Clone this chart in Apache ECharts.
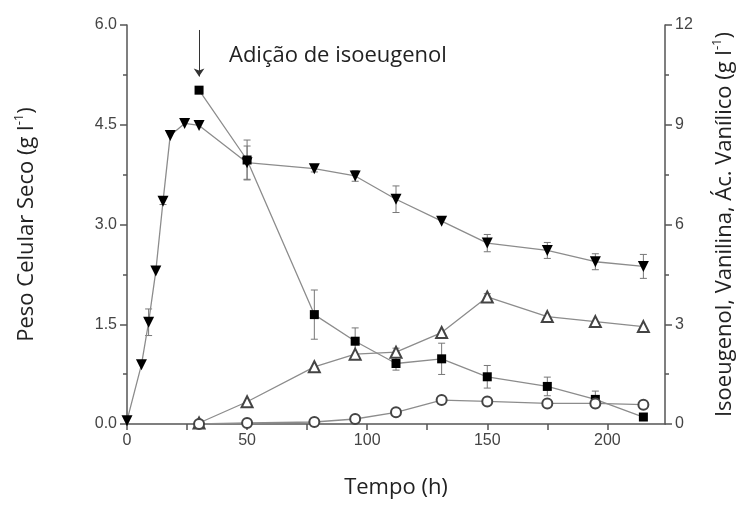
<!DOCTYPE html>
<html>
<head>
<meta charset="utf-8">
<script src="https://cdn.jsdelivr.net/npm/echarts@6/dist/echarts.min.js"></script>
<style>
html,body{margin:0;padding:0;background:#fff;}
#chart{width:747px;height:506px;}
</style>
</head>
<body>
<div id="chart"></div>
<script>
// ---- data ----
const bioTime = [0, 6, 9, 12, 15, 18, 24, 30, 50, 78, 95, 112, 131, 150, 175, 195, 215];
const biomass = [0.05, 0.89, 1.53, 2.30, 3.35, 4.34, 4.52, 4.49, 3.93, 3.84, 3.73, 3.38, 3.05, 2.72, 2.61, 2.44, 2.37];
const biomassErr = [0, 0, 0.2, 0, 0.05, 0, 0, 0, 0.25, 0.05, 0.08, 0.2, 0, 0.13, 0.12, 0.12, 0.18];

const prodTime = [30, 50, 78, 95, 112, 131, 150, 175, 195, 215];
const isoeugenol = [10.04, 7.94, 3.29, 2.49, 1.82, 1.96, 1.42, 1.13, 0.74, 0.21];
const isoeugenolErr = [0, 0.6, 0.74, 0.4, 0.2, 0.47, 0.34, 0.28, 0.25, 0];
const vanilina = [0.03, 0.67, 1.72, 2.10, 2.16, 2.75, 3.82, 3.23, 3.08, 2.93];
const vanilinaErr = [0, 0, 0, 0, 0.12, 0, 0.1, 0, 0, 0];
const acVanilico = [0, 0.03, 0.06, 0.15, 0.35, 0.72, 0.68, 0.62, 0.62, 0.58];

const xTicks = [0, 50, 100, 150, 200];
const arrowTime = 30;
const arrowFrom = 11.85;
const arrowTo = 10.45;
const annotation = 'Adição de isoeugenol';

// ---- helpers ----
function pairs(xs, ys) { return xs.map((x, i) => [x, ys[i]]); }
function errData(xs, ys, es) {
  const out = [];
  xs.forEach((x, i) => { if (es[i] > 0) out.push([x, ys[i] - es[i], ys[i] + es[i]]); });
  return out;
}
function errSeries(data, yIdx) {
  return {
    type: 'custom', yAxisIndex: yIdx, z: 1, silent: true,
    data: data, encode: { x: 0, y: [1, 2] },
    renderItem: function (params, api) {
      const x = api.value(0);
      const top = api.coord([x, api.value(2)]);
      const bot = api.coord([x, api.value(1)]);
      const w = 3.5;
      const st = { stroke: '#777', lineWidth: 1 };
      return {
        type: 'group', children: [
          { type: 'line', shape: { x1: top[0], y1: top[1], x2: bot[0], y2: bot[1] }, style: st },
          { type: 'line', shape: { x1: top[0] - w, y1: top[1], x2: top[0] + w, y2: top[1] }, style: st },
          { type: 'line', shape: { x1: bot[0] - w, y1: bot[1], x2: bot[0] + w, y2: bot[1] }, style: st }
        ]
      };
    }
  };
}

const FONT = '"Open Sans", "Noto Sans", sans-serif';
const LABEL_FONT = '"Liberation Sans", Arial, sans-serif';
const axisLineStyle = { color: '#555', width: 1.5 };
const lineStyle = { color: '#8c8c8c', width: 1.3 };
const nameStyle = {
  fontFamily: FONT, fontSize: 22, color: '#222', lineHeight: 28,
  rich: { sup: { fontFamily: FONT, fontSize: 13, color: '#222', verticalAlign: 'top', lineHeight: 16 } }
};

const chart = echarts.init(document.getElementById('chart'), null, { renderer: 'canvas' });
chart.setOption({
  animation: false,
  backgroundColor: '#fff',
  grid: { left: 127, right: 76, top: 25, bottom: 76, containLabel: false },
  xAxis: {
    type: 'value', min: 0, max: 224, interval: 25,
    name: 'Tempo (h)', nameLocation: 'middle', nameGap: 51,
    nameTextStyle: { fontFamily: FONT, fontSize: 22, color: '#222', lineHeight: 26 },
    axisLine: { show: true, lineStyle: axisLineStyle },
    axisTick: { show: true, length: 6, lineStyle: axisLineStyle },
    axisLabel: {
      fontFamily: LABEL_FONT, fontSize: 16, color: '#444', margin: 9, showMaxLabel: false,
      formatter: v => (xTicks.indexOf(v) >= 0 ? String(v) : '')
    },
    splitLine: { show: false }
  },
  yAxis: [
    {
      type: 'value', min: 0, max: 6, interval: 1.5, position: 'left',
      name: 'Peso Celular Seco (g l{sup|-1})', nameLocation: 'middle', nameRotate: 90, nameGap: 86,
      nameTextStyle: nameStyle,
      axisLine: { show: true, lineStyle: axisLineStyle },
      axisTick: { show: true, length: 7, lineStyle: axisLineStyle },
      minorTick: { show: true, splitNumber: 2, length: 4, lineStyle: axisLineStyle },
      axisLabel: { fontFamily: LABEL_FONT, fontSize: 16, color: '#444', margin: 10, formatter: v => v.toFixed(1) },
      splitLine: { show: false }
    },
    {
      type: 'value', min: 0, max: 12, interval: 3, position: 'right',
      name: 'Isoeugenol, Vanilina, Ác. Vanílico (g l{sup|-1})', nameLocation: 'middle', nameRotate: 90, nameGap: 46,
      nameTextStyle: nameStyle,
      axisLine: { show: true, lineStyle: axisLineStyle },
      axisTick: { show: true, length: 7, lineStyle: axisLineStyle },
      minorTick: { show: true, splitNumber: 2, length: 4, lineStyle: axisLineStyle },
      axisLabel: { fontFamily: LABEL_FONT, fontSize: 16, color: '#444', margin: 10 },
      splitLine: { show: false }
    }
  ],
  graphic: [{
    type: 'text', x: 229, y: 55.5, z: 10,
    style: { text: annotation, font: '22px ' + FONT, fill: '#222', verticalAlign: 'middle', align: 'left' }
  }],
  series: [
    errSeries(errData(bioTime, biomass, biomassErr), 0),
    errSeries(errData(prodTime, isoeugenol, isoeugenolErr), 1),
    errSeries(errData(prodTime, vanilina, vanilinaErr), 1),
    {
      name: 'Peso Celular Seco', type: 'line', yAxisIndex: 0, z: 3,
      data: pairs(bioTime, biomass),
      symbol: 'triangle', symbolRotate: 180, symbolSize: 11, showAllSymbol: true,
      itemStyle: { color: '#000' }, lineStyle: lineStyle
    },
    {
      name: 'Isoeugenol', type: 'line', yAxisIndex: 1, z: 3,
      data: pairs(prodTime, isoeugenol),
      symbol: 'rect', symbolSize: 9, showAllSymbol: true,
      itemStyle: { color: '#000' }, lineStyle: lineStyle,
      markLine: {
        silent: true, symbol: ['none', 'arrow'], symbolSize: 8,
        label: { show: false },
        lineStyle: { color: '#333', width: 1, type: 'solid' },
        data: [[{ coord: [arrowTime, arrowFrom] }, { coord: [arrowTime, arrowTo] }]]
      }
    },
    {
      name: 'Vanilina', type: 'line', yAxisIndex: 1, z: 3,
      data: pairs(prodTime, vanilina),
      symbol: 'emptyTriangle', symbolSize: 11, showAllSymbol: true,
      itemStyle: { color: '#444', borderWidth: 1.2 }, lineStyle: lineStyle
    },
    {
      name: 'Ác. Vanílico', type: 'line', yAxisIndex: 1, z: 3,
      data: pairs(prodTime, acVanilico),
      symbol: 'emptyCircle', symbolSize: 10, showAllSymbol: true,
      itemStyle: { color: '#444', borderWidth: 1.2 }, lineStyle: lineStyle
    }
  ]
});
</script>
</body>
</html>
